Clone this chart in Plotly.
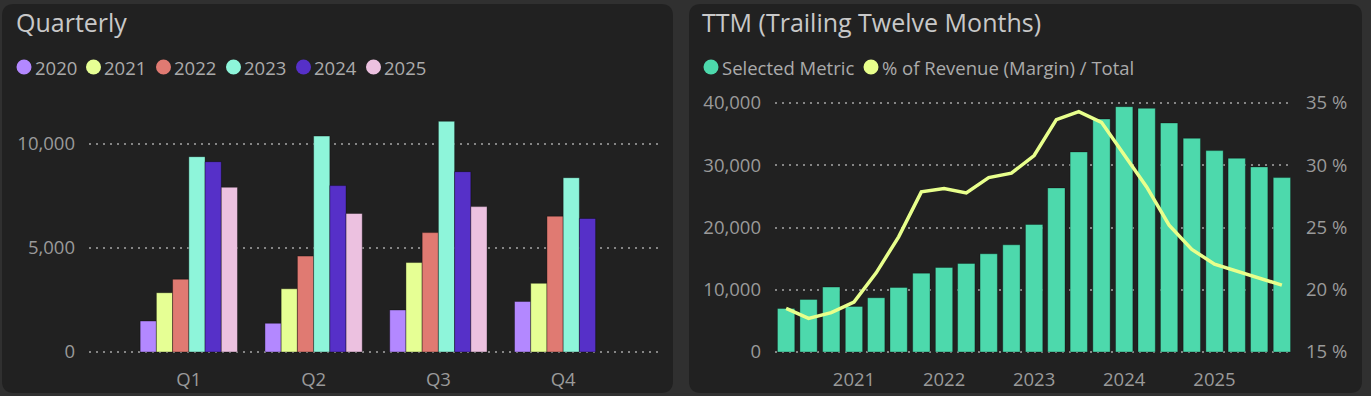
import plotly.graph_objects as go

W, H = 1371, 396

# ---------------- data ----------------
quarters = ["Q1", "Q2", "Q3", "Q4"]
years = ["2020", "2021", "2022", "2023", "2024", "2025"]
q2020 = [1490, 1380, 2020, 2430]
q2021 = [2850, 3040, 4300, 3300]
q2022 = [3500, 4610, 5740, 6530]
q2023 = [9390, 10380, 11090, 8380]
q2024 = [9150, 8000, 8670, 6420]
q2025 = [7920, 6660, 6990, None]
year_values = [q2020, q2021, q2022, q2023, q2024, q2025]
year_colors = ["#b388ff", "#e6ff94", "#e07a72", "#8ef5da", "#5630c8", "#ecc1e0"]

ttm_dates = [
    "2020-04-01", "2020-07-01", "2020-10-01",
    "2021-01-01", "2021-04-01", "2021-07-01", "2021-10-01",
    "2022-01-01", "2022-04-01", "2022-07-01", "2022-10-01",
    "2023-01-01", "2023-04-01", "2023-07-01", "2023-10-01",
    "2024-01-01", "2024-04-01", "2024-07-01", "2024-10-01",
    "2025-01-01", "2025-04-01", "2025-07-01", "2025-10-01",
]
ttm_metric = [7000, 8450, 10430, 7330, 8720, 10370, 12670, 13580, 14220, 15780,
              17220, 20480, 26360, 32140, 37430, 39410, 39140, 36790, 34330,
              32350, 31120, 29730, 28020]
ttm_margin = [18.50, 17.70, 18.16, 19.01, 21.36, 24.25, 27.86, 28.13, 27.78, 29.01,
              29.36, 30.78, 33.66, 34.30, 33.45, 30.78, 28.26, 25.19, 23.24,
              22.06, 21.50, 20.99, 20.37]
metric_name = "Selected Metric"
margin_name = "% of Revenue (Margin) / Total"
metric_color = "#4dd9ac"
margin_color = "#e8ff8c"

left_ticks = [0, 5000, 10000]
metric_ticks = [0, 10000, 20000, 30000, 40000]
pct_ticks = [15, 20, 25, 30, 35]
pct_labels = ["15 %", "20 %", "25 %", "30 %", "35 %"]

# ---------------- styling ----------------
FONT = "Open Sans"
PAGE_BG = "#303030"
PANEL_BG = "#212121"
TITLE_C = "#c8c8c8"
TICK_C = "#9a9a9a"
LEG_C = "#ababab"
GRID_C = "#858585"
GRID_DASH = "2px,5px"


def px_x(v):
    return v / W


def px_y(v):
    return 1 - v / H


def rounded_rect(x0, y0, x1, y1, r):
    X0, X1 = px_x(x0), px_x(x1)
    Y0, Y1 = px_y(y0), px_y(y1)
    rx, ry = r / W, r / H
    return (f"M {X0+rx},{Y0} L {X1-rx},{Y0} Q {X1},{Y0} {X1},{Y0-ry} "
            f"L {X1},{Y1+ry} Q {X1},{Y1} {X1-rx},{Y1} L {X0+rx},{Y1} "
            f"Q {X0},{Y1} {X0},{Y1+ry} L {X0},{Y0-ry} Q {X0},{Y0} {X0+rx},{Y0} Z")


fig = go.Figure()

for name, vals, col in zip(years, year_values, year_colors):
    fig.add_trace(go.Bar(
        x=quarters, y=vals, name=name, xaxis="x", yaxis="y",
        marker=dict(color=col, line=dict(color="rgba(0,0,0,0.35)", width=1)),
        showlegend=False,
    ))

fig.add_trace(go.Bar(
    x=ttm_dates, y=ttm_metric, name=metric_name, xaxis="x2", yaxis="y2",
    marker=dict(color=metric_color, line=dict(color="rgba(0,0,0,0.3)", width=1)),
    showlegend=False,
))
fig.add_trace(go.Scatter(
    x=ttm_dates, y=ttm_margin, name=margin_name, xaxis="x2", yaxis="y3",
    mode="lines", line=dict(color=margin_color, width=3.5),
    showlegend=False,
))

ydom = [px_y(354.5), px_y(100.5)]
tickfont = dict(family=FONT, size=18.5, color=TICK_C)
grid = dict(showgrid=True, gridcolor=GRID_C, griddash=GRID_DASH, gridwidth=1.5)

fig.update_layout(
    width=W, height=H,
    margin=dict(l=0, r=0, t=0, b=0, pad=0, autoexpand=False),
    paper_bgcolor=PAGE_BG, plot_bgcolor="rgba(0,0,0,0)",
    barmode="group", bargap=0.22, bargroupgap=0,
    font=dict(family=FONT, color=TICK_C),
    xaxis=dict(domain=[px_x(89), px_x(658)], type="category",
               range=[-0.8, 3.76], showgrid=False, zeroline=False,
               tickfont=tickfont, ticklabelstandoff=12, anchor="y",
               automargin=False),
    yaxis=dict(domain=ydom, range=[-120, 12091], tickvals=left_ticks,
               tickformat=",d", zeroline=False, tickfont=tickfont,
               ticklabelstandoff=13, anchor="x", automargin=False, **grid),
    xaxis2=dict(domain=[px_x(775), px_x(1293)], type="date",
                tick0="2021-01-01", dtick="M12", tickformat="%Y",
                showgrid=False, zeroline=False, tickfont=tickfont,
                ticklabelstandoff=12, anchor="y2", automargin=False),
    yaxis2=dict(domain=ydom, range=[-400, 40400], tickvals=metric_ticks,
                tickformat=",d", zeroline=False, tickfont=tickfont,
                ticklabelstandoff=13, anchor="x2", automargin=False, **grid),
    yaxis3=dict(overlaying="y2", side="right", anchor="x2", range=[14.8, 35.2],
                tickvals=pct_ticks, ticktext=pct_labels, showgrid=False,
                zeroline=False, tickfont=tickfont, ticklabelstandoff=12,
                automargin=False),
)

shapes = [
    dict(type="path", xref="paper", yref="paper", path=rounded_rect(2, 4, 673, 393, 12),
         fillcolor=PANEL_BG, line=dict(width=0), layer="below"),
    dict(type="path", xref="paper", yref="paper", path=rounded_rect(689, 4, 1362, 393, 12),
         fillcolor=PANEL_BG, line=dict(width=0), layer="below"),
]
annotations = [
    dict(text="Quarterly", x=px_x(14), y=px_y(22), xref="paper", yref="paper",
         xanchor="left", yanchor="middle", showarrow=False,
         font=dict(family=FONT, size=25, color=TITLE_C)),
    dict(text="TTM (Trailing Twelve Months)", x=px_x(700), y=px_y(22),
         xref="paper", yref="paper", xanchor="left", yanchor="middle",
         showarrow=False, font=dict(family=FONT, size=25, color=TITLE_C)),
]


# legend rows (circle marker + label)
def legend_item(cx, cy, label, color):
    r = 7.5
    shapes.append(dict(type="circle", xref="paper", yref="paper",
                       x0=px_x(cx - r), x1=px_x(cx + r), y0=px_y(cy + r), y1=px_y(cy - r),
                       fillcolor=color, line=dict(width=0), layer="above"))
    annotations.append(dict(text=label, x=px_x(cx + r + 1), y=px_y(cy), xref="paper",
                            yref="paper", xanchor="left", yanchor="middle",
                            showarrow=False,
                            font=dict(family=FONT, size=18.5, color=LEG_C)))


left_leg_x = [24, 93.5, 163.5, 233.5, 303.5, 373.5]
for cx, name, col in zip(left_leg_x, years, year_colors):
    legend_item(cx, 67, name, col)
legend_item(711, 67, metric_name, metric_color)
legend_item(871, 67, margin_name, margin_color)

fig.update_layout(shapes=shapes, annotations=annotations)

fig.write_html("out.html", config={"displayModeBar": False},
               post_script="document.body.style.margin='0';")
